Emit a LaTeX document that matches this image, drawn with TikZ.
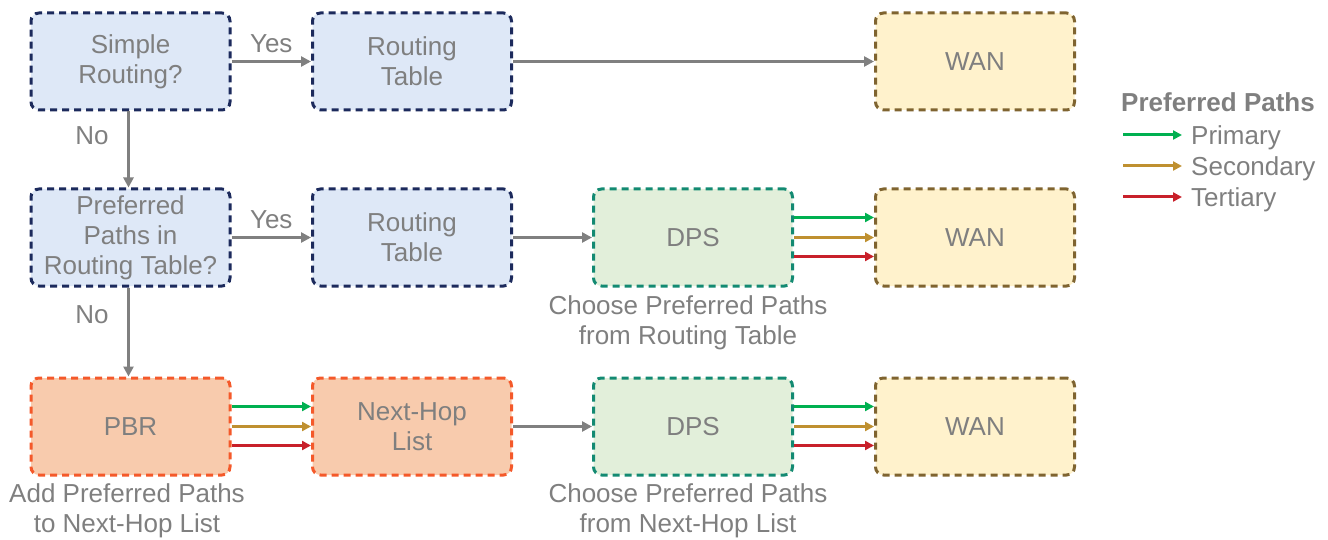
\documentclass[tikz,border=0pt]{standalone}
\usepackage{fontspec}
\setmainfont{Liberation Sans}
\usetikzlibrary{arrows.meta}
\definecolor{txtgray}{HTML}{7F7F7F}
\definecolor{arrgray}{HTML}{808080}
\definecolor{bluefill}{HTML}{DEE8F7}
\definecolor{blueline}{HTML}{1C2A5C}
\definecolor{greenfill}{HTML}{E2EFDA}
\definecolor{greenline}{HTML}{138A72}
\definecolor{orangefill}{HTML}{F8CBAD}
\definecolor{orangeline}{HTML}{F4592A}
\definecolor{wanfill}{HTML}{FFF2CC}
\definecolor{wanline}{HTML}{7F6430}
\definecolor{primarycol}{HTML}{00B050}
\definecolor{secondarycol}{HTML}{BF9030}
\definecolor{tertiarycol}{HTML}{C8202A}
\tikzset{
  txt/.style={text=txtgray, font=\fontsize{26}{30}\selectfont, align=center},
  box/.style={txt, rounded corners=8pt, line width=3pt, dash pattern=on 7pt off 5pt,
    minimum width=199pt, minimum height=97pt, inner sep=0pt},
  qbox/.style={box, draw=blueline, fill=bluefill},
  dpsbox/.style={box, draw=greenline, fill=greenfill},
  pbrbox/.style={box, draw=orangeline, fill=orangefill},
  wanbox/.style={box, draw=wanline, fill=wanfill},
  flow/.style={draw=arrgray, line width=3pt, -{Triangle[length=10pt,width=10pt]}},
  pathline/.style={line width=3pt, -{Triangle[length=9pt,width=9pt]}},
  prim/.style={pathline, draw=primarycol},
  sec/.style={pathline, draw=secondarycol},
  ter/.style={pathline, draw=tertiarycol},
}
\begin{document}
\begin{tikzpicture}[x=1pt, y=-1pt]
\useasboundingbox (0,0) rectangle (1328,540);

% row 1
\node[qbox] (simple) at (130.5,61.5) {Simple\\Routing?};
\node[qbox] (rt1) at (412,61.5) {Routing\\Table};
\node[wanbox] (wan1) at (975,61.5) {WAN};

% row 2
\node[qbox] (pref) at (130.5,237.5) {Preferred\\Paths in\\Routing Table?};
\node[qbox] (rt2) at (412,237.5) {Routing\\Table};
\node[dpsbox] (dps2) at (693,237.5) {DPS};
\node[wanbox] (wan2) at (975,237.5) {WAN};

% row 3
\node[pbrbox] (pbr) at (130.5,426.5) {PBR};
\node[pbrbox] (nhl) at (412,426.5) {Next-Hop\\List};
\node[dpsbox] (dps3) at (693,426.5) {DPS};
\node[wanbox] (wan3) at (975,426.5) {WAN};

% decisions and plain flow
\draw[flow] (simple.east) -- (rt1.west) node[txt, midway, above=4pt] (yes1) {Yes};
\draw[flow] (rt1.east) -- (wan1.west);
\draw[flow] ([xshift=-2pt]simple.south) -- ([xshift=-2pt]pref.north)
  node[txt, pos=0.32, left=15pt] (no1) {No};
\draw[flow] (pref.east) -- (rt2.west) node[txt, midway, above=4pt] (yes2) {Yes};
\draw[flow] (rt2.east) -- (dps2.west);
\draw[flow] ([xshift=-2pt]pref.south) -- ([xshift=-2pt]pbr.north)
  node[txt, pos=0.3, left=15pt] (no2) {No};
\draw[flow] (nhl.east) -- (dps3.west);

% preferred path bundles
\foreach \a/\b in {dps2/wan2, pbr/nhl, dps3/wan3}{
  \draw[prim] ([yshift=20pt]\a.east) -- ([yshift=20pt]\b.west);
  \draw[sec] (\a.east) -- (\b.west);
  \draw[ter] ([yshift=-19pt]\a.east) -- ([yshift=-19pt]\b.west);
}

% captions
\node[txt] (cap2) at (688,323) {Choose Preferred Paths\\from Routing Table};
\node[txt] (cap3a) at (127,510.5) {Add Preferred Paths\\to Next-Hop List};
\node[txt] (cap3b) at (688,510.5) {Choose Preferred Paths\\from Next-Hop List};

% legend
\node[txt, font=\fontsize{26}{30}\selectfont\bfseries, anchor=west, inner sep=0pt] (lgtitle) at (1121,102) {Preferred Paths};
\coordinate (l1a) at (1123,135); \coordinate (l1b) at (1182,135);
\coordinate (l2a) at (1123,166); \coordinate (l2b) at (1182,166);
\coordinate (l3a) at (1123,197); \coordinate (l3b) at (1182,197);
\draw[prim] (l1a) -- (l1b);
\draw[sec] (l2a) -- (l2b);
\draw[ter] (l3a) -- (l3b);
\node[txt, anchor=west, inner sep=0pt] (lgp) at (1191,138) {Primary};
\node[txt, anchor=west, inner sep=0pt] (lgs) at (1191,169) {Secondary};
\node[txt, anchor=west, inner sep=0pt] (lgt) at (1191,200) {Tertiary};
\end{tikzpicture}
\end{document}
